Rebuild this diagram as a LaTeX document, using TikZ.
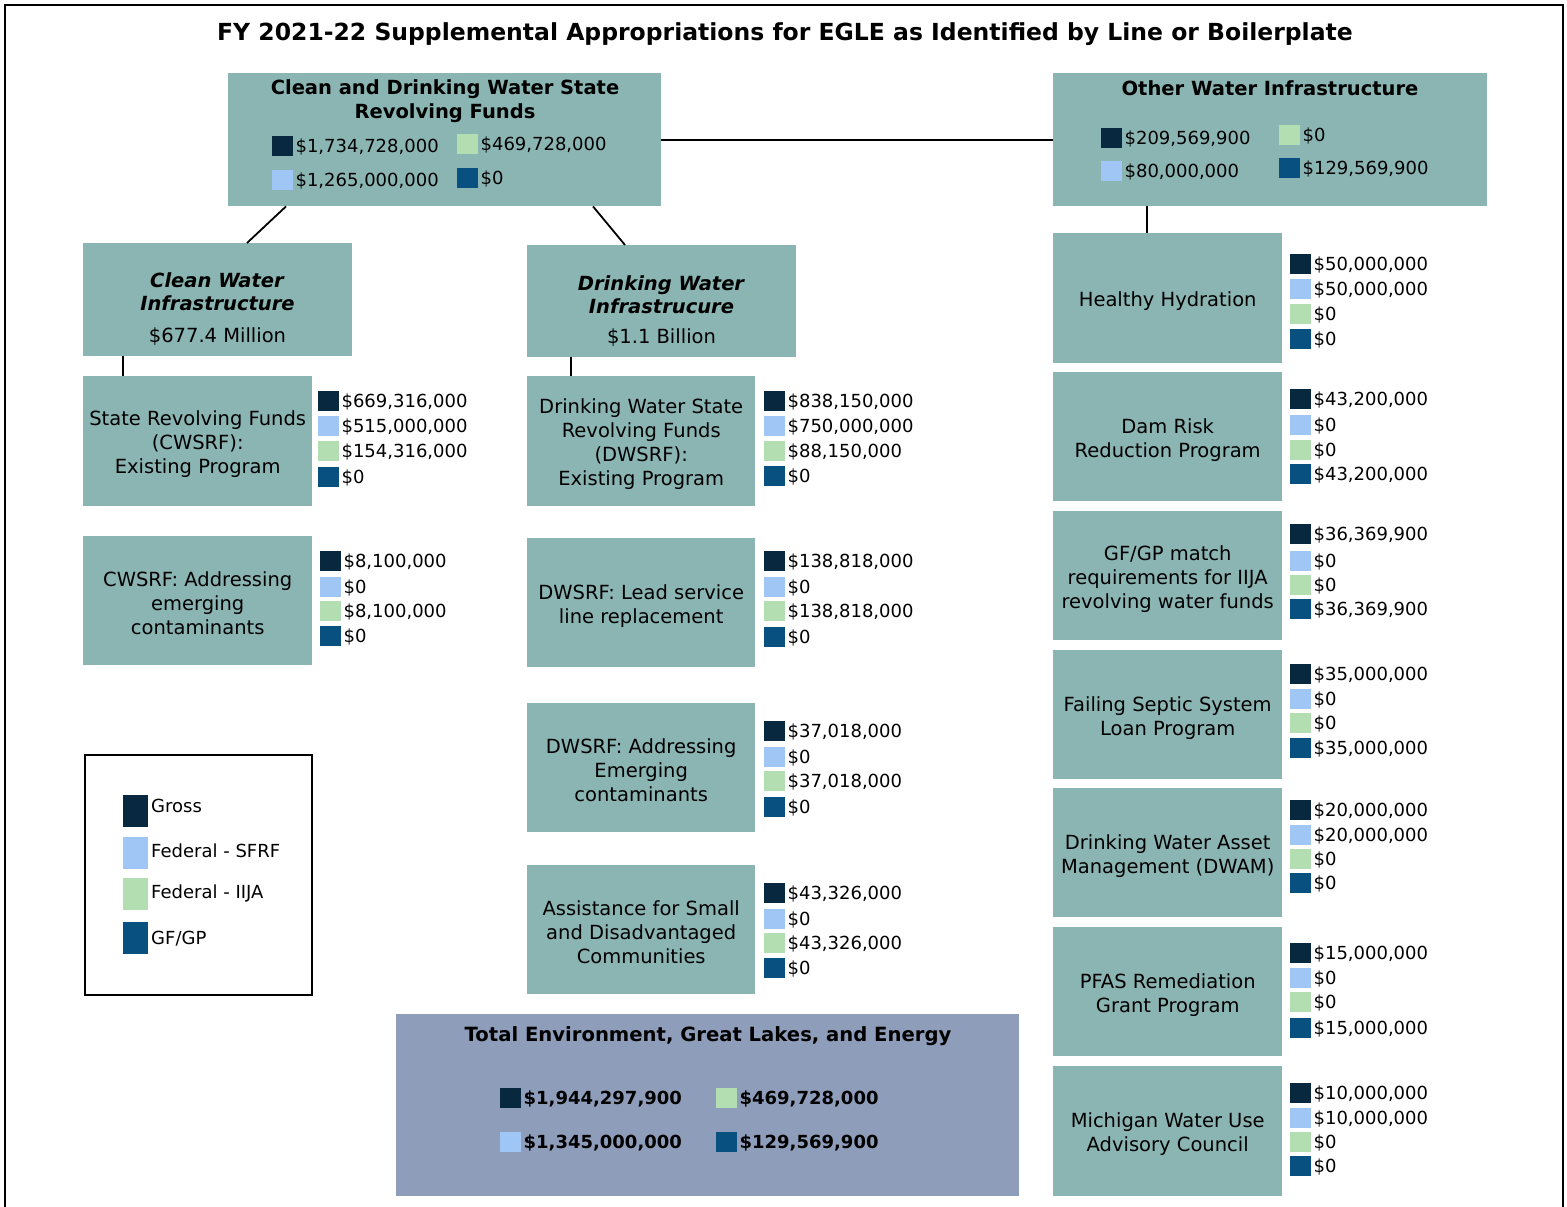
\documentclass[tikz,border=0pt]{standalone}
\usepackage{fontspec}
\setmainfont{DejaVu Sans}
\definecolor{boxteal}{HTML}{8AB5B3}
\definecolor{boxtotal}{HTML}{8E9DBA}
\definecolor{cGross}{HTML}{082840}
\definecolor{cSFRF}{HTML}{A0C6F5}
\definecolor{cIIJA}{HTML}{B2DEB2}
\definecolor{cGFGP}{HTML}{075080}
\newcommand\lr[5]{%
  \node[sq, fill=#4, anchor=west] (#1) at (#2,#3) {};
  \node[amt, anchor=west] (#1t) at ([xshift=2pt]#1.east) {#5};}
\newcommand\lrb[5]{%
  \node[sq, fill=#4, anchor=west] (#1) at (#2,#3) {};
  \node[amt, font=\bfseries\fontsize{18}{22}\selectfont, anchor=west] (#1t) at ([xshift=2pt]#1.east) {#5};}
% box with centred text: name, x, y, w, h, text
\newcommand\tb[6]{%
  \node[tbox, minimum width=#4pt, minimum height=#5pt] (#1) at (#2,#3) {};
  \node[boxtxt] (#1l) at ([yshift=-3pt]#1.center) {#6};}
\begin{document}
\begin{tikzpicture}[x=1pt,y=-1pt,
  tbox/.style={fill=boxteal, draw=none, inner sep=0, anchor=north west},
  boxtxt/.style={inner sep=0, align=center, font=\fontsize{19.5}{24}\selectfont},
  sq/.style={minimum width=21pt, minimum height=20pt, inner sep=0, draw=none},
  amt/.style={inner sep=0, text height=13pt, text depth=0pt, font=\fontsize{18}{22}\selectfont},
  btitle/.style={inner sep=0, align=center, font=\bfseries\fontsize{19.5}{24}\selectfont},
  conn/.style={draw=black, line width=1.8pt}]
\useasboundingbox (0,0) rectangle (1567,1207);
\fill[white] (0,0) rectangle (1567,1207);
\draw[line width=2.6pt] (5,1207) -- (5,5) -- (1563,5) -- (1563,1207);

\node[font=\bfseries\fontsize{23.5}{28}\selectfont, inner sep=0] (title) at (785,34)
  {FY 2021-22 Supplemental Appropriations for EGLE as Identified by Line or Boilerplate};

% top boxes
\node[tbox, minimum width=433pt, minimum height=133pt] (A) at (228,73) {};
\node[btitle] (Atitle) at (445,101) {Clean and Drinking Water State\\Revolving Funds};
\lr{A1}{272}{146}{cGross}{\$1,734,728,000}
\lr{A2}{457}{144}{cIIJA}{\$469,728,000}
\lr{A3}{272}{180}{cSFRF}{\$1,265,000,000}
\lr{A4}{457}{178}{cGFGP}{\$0}

\node[tbox, minimum width=434pt, minimum height=133pt] (B) at (1053,73) {};
\node[btitle] (Btitle) at (1270,88) {Other Water Infrastructure};
\lr{B1}{1101}{138}{cGross}{\$209,569,900}
\lr{B2}{1279}{135}{cIIJA}{\$0}
\lr{B3}{1101}{171}{cSFRF}{\$80,000,000}
\lr{B4}{1279}{168}{cGFGP}{\$129,569,900}

% second level
\node[tbox, minimum width=269pt, minimum height=113pt] (C) at (83,243) {};
\node[inner sep=0, align=center, font=\fontsize{19.5}{23}\selectfont] (Ctxt) at (217.5,309)
  {\textbf{\textit{Clean Water}}\\\textbf{\textit{Infrastructure}}\\[9pt]\$677.4 Million};
\node[tbox, minimum width=269pt, minimum height=112pt] (D) at (527,245) {};
\node[inner sep=0, align=center, font=\fontsize{19.5}{23}\selectfont] (Dtxt) at (661.5,311)
  {\textbf{\textit{Drinking Water}}\\\textbf{\textit{Infrastrucure}}\\[7pt]\$1.1 Billion};

% left column
\tb{C1}{83}{376}{229}{130}{State Revolving Funds\\(CWSRF):\\Existing Program}
\lr{C1a}{318}{401}{cGross}{\$669,316,000}
\lr{C1b}{318}{426}{cSFRF}{\$515,000,000}
\lr{C1c}{318}{451}{cIIJA}{\$154,316,000}
\lr{C1d}{318}{477}{cGFGP}{\$0}

\tb{C2}{83}{536}{229}{129}{CWSRF: Addressing\\emerging\\contaminants}
\lr{C2a}{320}{561}{cGross}{\$8,100,000}
\lr{C2b}{320}{587}{cSFRF}{\$0}
\lr{C2c}{320}{611}{cIIJA}{\$8,100,000}
\lr{C2d}{320}{636}{cGFGP}{\$0}

% legend box
\node[draw=black, line width=1.8pt, fill=white, anchor=north west, minimum width=227pt, minimum height=240pt, inner sep=0] (L) at (84,754) {};
\node[minimum width=25pt, minimum height=32pt, inner sep=0, fill=cGross, anchor=north west] (Lg) at (123,795) {};
\node[minimum width=25pt, minimum height=32pt, inner sep=0, fill=cSFRF, anchor=north west] (Ls) at (123,837) {};
\node[minimum width=25pt, minimum height=32pt, inner sep=0, fill=cIIJA, anchor=north west] (Li) at (123,878) {};
\node[minimum width=25pt, minimum height=32pt, inner sep=0, fill=cGFGP, anchor=north west] (Lf) at (123,922) {};
\node[amt, anchor=west] (Lgt) at (151,806) {Gross};
\node[amt, anchor=west] (Lst) at (151,851) {Federal - SFRF};
\node[amt, anchor=west] (Lit) at (151,892) {Federal - IIJA};
\node[amt, anchor=west] (Lft) at (151,938) {GF/GP};

% middle column
\tb{D1}{527}{376}{228}{130}{Drinking Water State\\Revolving Funds\\(DWSRF):\\Existing Program}
\lr{D1a}{764}{401}{cGross}{\$838,150,000}
\lr{D1b}{764}{426}{cSFRF}{\$750,000,000}
\lr{D1c}{764}{451}{cIIJA}{\$88,150,000}
\lr{D1d}{764}{476}{cGFGP}{\$0}

\tb{D2}{527}{538}{228}{129}{DWSRF: Lead service\\line replacement}
\lr{D2a}{764}{561}{cGross}{\$138,818,000}
\lr{D2b}{764}{587}{cSFRF}{\$0}
\lr{D2c}{764}{611}{cIIJA}{\$138,818,000}
\lr{D2d}{764}{637}{cGFGP}{\$0}

\tb{D3}{527}{703}{228}{129}{DWSRF: Addressing\\Emerging\\contaminants}
\lr{D3a}{764}{731}{cGross}{\$37,018,000}
\lr{D3b}{764}{757}{cSFRF}{\$0}
\lr{D3c}{764}{781}{cIIJA}{\$37,018,000}
\lr{D3d}{764}{807}{cGFGP}{\$0}

\tb{D4}{527}{865}{228}{129}{Assistance for Small\\and Disadvantaged\\Communities}
\lr{D4a}{764}{893}{cGross}{\$43,326,000}
\lr{D4b}{764}{919}{cSFRF}{\$0}
\lr{D4c}{764}{943}{cIIJA}{\$43,326,000}
\lr{D4d}{764}{968}{cGFGP}{\$0}

% total box
\node[fill=boxtotal, anchor=north west, minimum width=623pt, minimum height=182pt, inner sep=0] (T) at (396,1014) {};
\node[inner sep=0, font=\bfseries\fontsize{19.6}{23}\selectfont] (Ttitle) at (708,1036) {Total Environment, Great Lakes, and Energy};
\lrb{T1}{500}{1098}{cGross}{\$1,944,297,900}
\lrb{T2}{716}{1098}{cIIJA}{\$469,728,000}
\lrb{T3}{500}{1142}{cSFRF}{\$1,345,000,000}
\lrb{T4}{716}{1142}{cGFGP}{\$129,569,900}

% right column
\tb{R1}{1053}{233}{229}{130}{Healthy Hydration}
\lr{R1a}{1290}{264}{cGross}{\$50,000,000}
\lr{R1b}{1290}{289}{cSFRF}{\$50,000,000}
\lr{R1c}{1290}{314}{cIIJA}{\$0}
\lr{R1d}{1290}{339}{cGFGP}{\$0}

\tb{R2}{1053}{372}{229}{129}{Dam Risk\\Reduction Program}
\lr{R2a}{1290}{399}{cGross}{\$43,200,000}
\lr{R2b}{1290}{425}{cSFRF}{\$0}
\lr{R2c}{1290}{450}{cIIJA}{\$0}
\lr{R2d}{1290}{474}{cGFGP}{\$43,200,000}

\tb{R3}{1053}{511}{229}{129}{GF/GP match\\requirements for IIJA\\revolving water funds}
\lr{R3a}{1290}{534}{cGross}{\$36,369,900}
\lr{R3b}{1290}{561}{cSFRF}{\$0}
\lr{R3c}{1290}{585}{cIIJA}{\$0}
\lr{R3d}{1290}{609}{cGFGP}{\$36,369,900}

\tb{R4}{1053}{650}{229}{129}{Failing Septic System\\Loan Program}
\lr{R4a}{1290}{674}{cGross}{\$35,000,000}
\lr{R4b}{1290}{699}{cSFRF}{\$0}
\lr{R4c}{1290}{723}{cIIJA}{\$0}
\lr{R4d}{1290}{748}{cGFGP}{\$35,000,000}

\tb{R5}{1053}{788}{229}{129}{Drinking Water Asset\\Management (DWAM)}
\lr{R5a}{1290}{810}{cGross}{\$20,000,000}
\lr{R5b}{1290}{835}{cSFRF}{\$20,000,000}
\lr{R5c}{1290}{859}{cIIJA}{\$0}
\lr{R5d}{1290}{883}{cGFGP}{\$0}

\tb{R6}{1053}{927}{229}{129}{PFAS Remediation\\Grant Program}
\lr{R6a}{1290}{953}{cGross}{\$15,000,000}
\lr{R6b}{1290}{978}{cSFRF}{\$0}
\lr{R6c}{1290}{1002}{cIIJA}{\$0}
\lr{R6d}{1290}{1028}{cGFGP}{\$15,000,000}

\tb{R7}{1053}{1066}{229}{130}{Michigan Water Use\\Advisory Council}
\lr{R7a}{1290}{1093}{cGross}{\$10,000,000}
\lr{R7b}{1290}{1118}{cSFRF}{\$10,000,000}
\lr{R7c}{1290}{1142}{cIIJA}{\$0}
\lr{R7d}{1290}{1166}{cGFGP}{\$0}

% connectors
\draw[conn] (A.east) -- (B.west);
\draw[conn] ([xshift=58pt]A.south west) -- ([xshift=164pt]C.north west);
\draw[conn] ([xshift=365pt]A.south west) -- ([xshift=98pt]D.north west);
\draw[conn] ([xshift=40pt]C.south west) -- ([xshift=40pt]C1.north west);
\draw[conn] ([xshift=44pt]D.south west) -- ([xshift=44pt]D1.north west);
\draw[conn] ([xshift=94pt]B.south west) -- ([xshift=94pt]R1.north west);
\end{tikzpicture}
\end{document}
